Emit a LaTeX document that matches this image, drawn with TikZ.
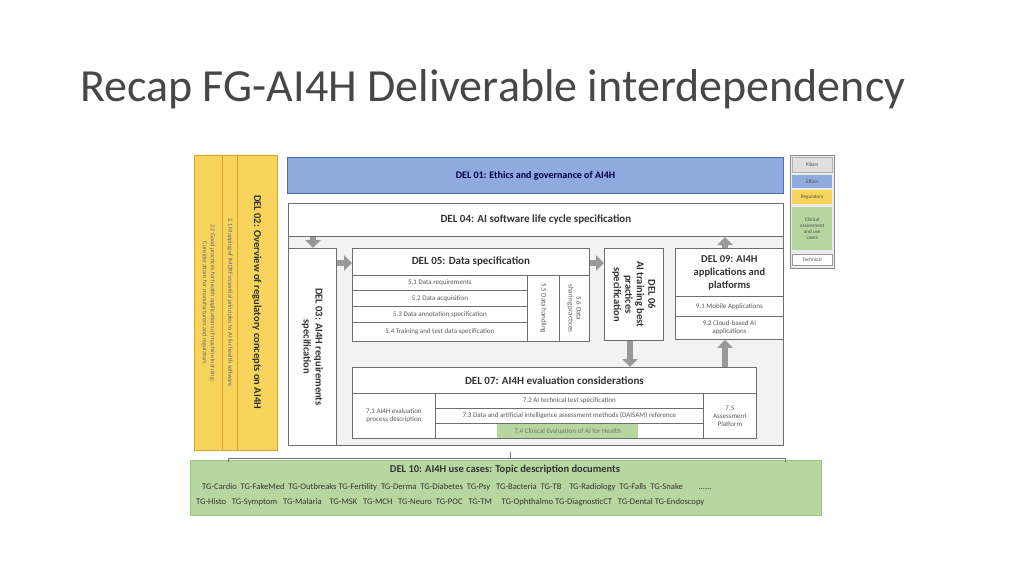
\documentclass[tikz,border=0pt]{standalone}
\usepackage{fontspec}
\setmainfont{Carlito}
\usetikzlibrary{arrows.meta}
\definecolor{ybox}{HTML}{F8D45C}
\definecolor{yedge}{HTML}{D9A520}
\definecolor{bbox}{HTML}{8FAADC}
\definecolor{bedge}{HTML}{4A6EB0}
\definecolor{gbox}{HTML}{B7D7A0}
\definecolor{gedge}{HTML}{9CC487}
\definecolor{frame}{HTML}{6E6E6E}
\definecolor{tx}{HTML}{333333}
\newcommand{\bx}[7]{\node[#6, minimum width={(#4-#2)*1pt}, minimum height={(#5-#3)*1pt}, anchor=north west] (#1) at (#2,#3) {#7};}
\tikzset{
  wb/.style={draw=frame, fill=white, line width=0.8pt, inner sep=0pt, text=tx},
  gb/.style={draw=frame, fill=black!5, line width=0.8pt, inner sep=0pt},
  yb/.style={draw=yedge, fill=ybox, line width=0.8pt, inner sep=0pt, text=tx},
  ttl/.style={font=\bfseries\fontsize{11}{12}\selectfont, text=tx},
  itm/.style={font=\fontsize{7}{8}\selectfont, text=black!65},
  garrow/.style={line width=6pt, draw=black!40, -{Triangle[width=15pt,length=8pt]}},
}
\begin{document}
\begin{tikzpicture}[x=1pt,y=-1pt]
\useasboundingbox (0,0) rectangle (1024,576);
\node[anchor=base west, font=\fontsize{46}{48}\selectfont, text=black!72, inner sep=0] (title) at (80,101) {Recap FG-AI4H Deliverable interdependency};
% DEL 02
\bx{d02}{194}{155}{277}{450}{yb}{}
\bx{d02a}{194}{155}{222}{450}{yb}{}
\bx{d02b}{222}{155}{237}{450}{yb}{}
\node[rotate=-90, ttl, font=\bfseries\fontsize{10.5}{12}\selectfont] at (257,302) {DEL 02: Overview of regulatory concepts on AI4H};
\node[rotate=-90, itm, font=\fontsize{6.2}{7}\selectfont, text=black!60] at (d02b.center) {2.1 Mapping of IMDRF essential principles to AI for health software};
\node[rotate=-90, itm, font=\fontsize{6.2}{8}\selectfont, text=black!60, align=center] at (d02a.center) {2.2 Good practices for health applications of machine learning:\\Considerations for manufacturers and regulators};
% DEL 01
\bx{d01}{287}{157}{783}{193}{draw=bedge, fill=bbox, line width=1pt, inner sep=0pt}{}
\node[ttl, font=\bfseries\fontsize{10}{12}\selectfont, text=black!75!blue] at (d01.center) {DEL 01: Ethics and governance of AI4H};
% DEL 04 frame
\bx{d04}{288}{203}{783}{445}{gb}{}
\bx{d04t}{288}{203}{783}{236}{wb}{}
\node[ttl] at (d04t.center) {DEL 04: AI software life cycle specification};
% DEL 03
\bx{d03}{288}{248}{336}{445}{wb}{}
\node[rotate=-90, ttl, align=center, font=\bfseries\fontsize{10.5}{12}\selectfont] at (d03.center) {DEL 03: AI4H requirements\\specification};
% DEL 05
\bx{d05}{352}{248}{589}{341}{wb}{}
\bx{d05t}{352}{248}{589}{275}{wb}{}
\node[ttl] at (d05t.center) {DEL 05: Data specification};
\bx{d51}{352}{275}{527}{290}{wb,itm}{5.1 Data requirements}
\bx{d52}{352}{290}{527}{306}{wb,itm}{5.2 Data acquisition}
\bx{d53}{352}{306}{527}{322}{wb,itm}{5.3 Data annotation specification}
\bx{d54}{352}{322}{527}{341}{wb,itm}{5.4 Training and test data specification}
\bx{d55}{527}{275}{559}{341}{wb}{}
\bx{d56}{559}{275}{589}{341}{wb}{}
\node[rotate=-90, itm] at (d55.center) {5.5 Data handling};
\node[rotate=-90, itm, align=center] at (d56.center) {5.6 Data\\sharing practices};
% DEL 06
\bx{d06}{604}{248}{663}{340}{wb}{}
\node[rotate=-90, ttl, align=center, font=\bfseries\fontsize{10.5}{11.5}\selectfont] at (d06.center) {DEL 06\\AI training best\\practices\\specification};
% DEL 09
\bx{d09}{675}{248}{783}{339}{wb}{}
\bx{d09t}{675}{248}{783}{296}{wb}{}
\node[ttl, align=center, font=\bfseries\fontsize{10.5}{13}\selectfont] at (d09t.center) {DEL 09: AI4H\\applications and\\platforms};
\bx{d91}{675}{296}{783}{316}{wb,itm}{9.1 Mobile Applications}
\bx{d92}{675}{316}{783}{339}{wb,itm,align=center}{9.2 Cloud-based AI\\applications}
% DEL 07
\bx{d07}{352}{367}{756}{438}{wb}{}
\bx{d07t}{352}{367}{756}{393}{wb}{}
\node[ttl] at (d07t.center) {DEL 07: AI4H evaluation considerations};
\bx{d71}{352}{393}{435}{438}{wb,itm,align=center}{7.1 AI4H evaluation\\process description}
\bx{d72}{435}{393}{703}{408}{wb,itm}{7.2 AI technical test specification}
\bx{d73}{435}{408}{703}{423}{wb,itm}{7.3 Data and artificial intelligence assessment methods (DAISAM) reference}
\bx{d74}{435}{423}{703}{438}{wb}{}
\bx{d74g}{497}{423.4}{638}{437.6}{fill=gbox, inner sep=0pt, itm, text=black!55}{7.4 Clinical Evaluation of AI for Health}
\bx{d75}{703}{393}{756}{438}{wb,itm,align=center}{7.5\\Assessment\\Platform}
% arrows
\coordinate (a1s) at (313,237); \coordinate (a4) at (725,237);
\draw[garrow] (a1s) -- (d03.north -| a1s);
\draw[garrow] (d03.east |- 0,263) -- (d05.west |- 0,263);
\draw[garrow] (d05.east |- 0,263) -- (d06.west |- 0,263);
\draw[garrow] (d06.south -| 630,0) -- (d07.north -| 630,0);
\draw[garrow] (d07.north -| 725,0) -- (d09.south -| 725,0);
\draw[garrow] (d09.north -| 725,0) -- (a4);
% DEL 10
\bx{d10}{190}{460}{821}{515}{draw=gedge, fill=gbox, line width=0.5pt, inner sep=0pt}{}
\coordinate (bl) at (228,462); \coordinate (br) at (785,462); \coordinate (bm) at (510,452);
\draw[black!55, line width=0.6pt] (bl) -- ++(0,-4) -- (br |- 0,458) -- (br);
\draw[black!55, line width=0.6pt] (bm) -- (bm |- 0,458);
\node[ttl, font=\bfseries\fontsize{10.5}{12}\selectfont] at (505,470) {DEL 10: AI4H use cases: Topic description documents};
\node[anchor=west, inner sep=0, font=\fontsize{8.6}{9}\selectfont, text=tx] at (202,487) {TG-Cardio\ \ TG-FakeMed\ \ TG-Outbreaks TG-Fertility\ \ TG-Derma\ \ TG-Diabetes\ \ TG-Psy\ \ \ TG-Bacteria\ \ TG-TB\ \ \ \ TG-Radiology\ \ TG-Falls\ \ TG-Snake\ \ \ \ \ \ \ \ ......};
\node[anchor=west, inner sep=0, font=\fontsize{8.6}{9}\selectfont, text=tx] at (196,502) {TG-Histo\ \ \ TG-Symptom\ \ \ TG-Malaria\ \ \ \ TG-MSK\ \ \ TG-MCH\ \ \ TG-Neuro\ \ TG-POC\ \ \ TG-TM\ \ \ \ \ TG-Ophthalmo TG-DiagnosticCT\ \ \ TG-Dental\ TG-Endoscopy};
% legend
\bx{lg}{790}{155}{834}{268}{draw=black!45, fill=black!8, line width=0.5pt, inner sep=0pt}{}
\tikzset{lgi/.style={inner sep=0pt, font=\fontsize{5.2}{6.2}\selectfont, text=black!70, align=center}}
\bx{lp}{792}{157}{832}{172}{lgi, fill=black!12, draw=black!30}{Pillars}
\bx{le}{792}{175}{832}{188}{lgi, fill=bbox}{Ethics}
\bx{lr}{792}{190}{832}{204}{lgi, fill=ybox}{Regulatory}
\bx{lc}{792}{207}{832}{250}{lgi, fill=gbox}{Clinical\\assessment\\and use\\cases}
\bx{lt}{792}{254}{832}{265}{lgi, fill=white, draw=black!40}{Technical}
\end{tikzpicture}
\end{document}
